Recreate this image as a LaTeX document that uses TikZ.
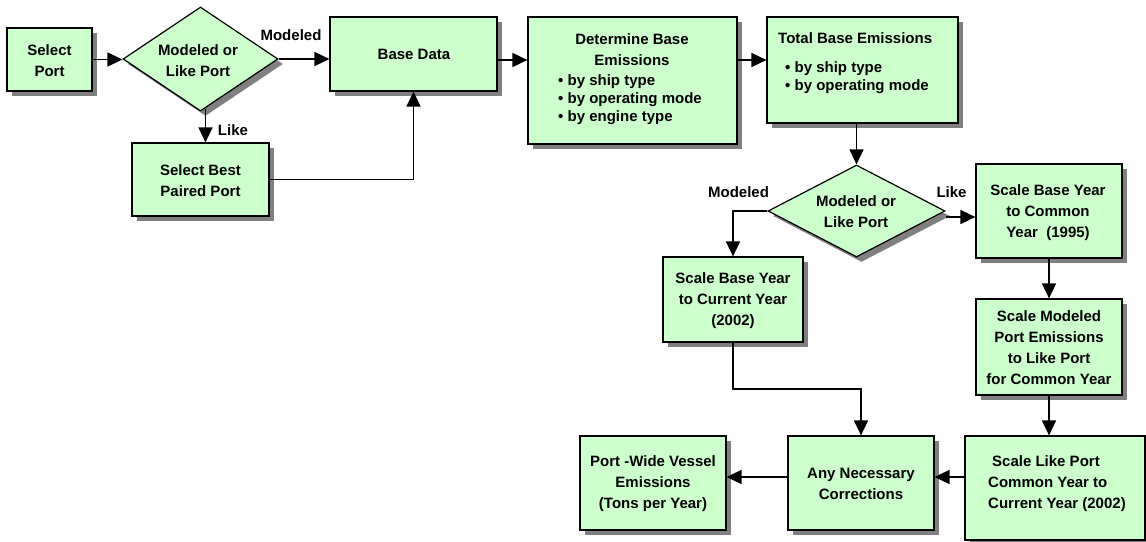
\documentclass[tikz,border=0pt]{standalone}
\usepackage{fontspec}
\setmainfont{Liberation Sans}
\usetikzlibrary{arrows.meta,shapes.geometric,shadows}
\definecolor{boxgreen}{RGB}{204,255,204}
\definecolor{shadowgray}{RGB}{128,128,128}
\begin{document}
\begin{tikzpicture}[x=1pt,y=-1pt,
  shad/.style={drop shadow={shadow xshift=5pt,shadow yshift=-5pt,fill=shadowgray,opacity=1}},
  box/.style={draw=black,line width=1.2pt,fill=boxgreen,rectangle,inner sep=0pt,shad},
  dia/.style={draw=black,line width=1.2pt,fill=boxgreen,diamond,inner sep=0pt,shad},
  txt/.style={font=\fontsize{15}{21}\selectfont\bfseries,inner sep=0pt,align=center},
  arr/.style={line width=1.6pt,-{Triangle[length=15pt,width=14pt]}}
]
\fill[white] (0,0) rectangle (1146,541);
\useasboundingbox (0,0) rectangle (1146,541);

% boxes
\node[box,minimum width=85pt,minimum height=63pt] (sp) at (49.5,59.5) {};
\node[dia,minimum width=155pt,minimum height=104pt] (d1) at (200.5,59) {};
\node[box,minimum width=167pt,minimum height=74pt] (bd) at (413.5,54) {};
\node[box,minimum width=137pt,minimum height=73pt] (sb) at (200.5,179.5) {};
\node[box,minimum width=209pt,minimum height=127pt] (det) at (632.5,80.5) {};
\node[box,minimum width=191pt,minimum height=106pt] (tot) at (862.5,70) {};
\node[dia,minimum width=177pt,minimum height=92pt] (d2) at (856.5,211) {};
\node[box,minimum width=146pt,minimum height=94pt] (scom) at (1049,211) {};
\node[box,minimum width=146pt,minimum height=96pt] (smod) at (1049,347) {};
\node[box,minimum width=140pt,minimum height=85pt] (scur) at (733,299.5) {};
\node[box,minimum width=146pt,minimum height=94pt] (pw) at (653,483) {};
\node[box,minimum width=146pt,minimum height=94pt] (any) at (861,483) {};
\node[box,minimum width=180pt,minimum height=104pt] (slike) at (1055,488) {};

% texts
\node[txt] (tsp) at (49.5,60.5) {Select\\Port};
\node[txt] (td1) at (198,60.5) {Modeled or\\Like Port};
\node[txt] (tbd) at (414,54) {Base Data};
\node[txt] (tsb) at (200.5,180.5) {Select Best\\Paired Port};
\node[txt] (tdet1) at (632,49.5) {Determine Base\\Emissions};
\node[txt,align=left,anchor=west] (tdet2) at (558,100) {• by ship type\\[-3pt]• by operating mode\\[-3pt]• by engine type};
\node[txt,anchor=west] (ttot1) at (778,38) {Total Base Emissions};
\node[txt,align=left,anchor=west] (ttot2) at (785,78) {• by ship type\\[-3pt]• by operating mode};
\node[txt] (td2) at (856,212) {Modeled or\\Like Port};
\node[txt] (tscom) at (1048,212.5) {Scale Base Year\\to Common\\Year\ \ (1995)};
\node[txt] (tsmod) at (1049,348) {Scale Modeled\\Port Emissions\\to Like Port\\for Common Year};
\node[txt] (tscur) at (733,300.5) {Scale Base Year\\to Current Year\\(2002)};
\node[txt] (tpw) at (653,484) {Port -Wide Vessel\\Emissions\\(Tons per Year)};
\node[txt] (tany) at (861,483.5) {Any Necessary\\Corrections};
\node[txt,align=left,anchor=west] (tslike) at (988,483.5) {\hspace{4pt}Scale Like Port\\Common Year to\\Current Year (2002)};

% labels
\node[txt] (lab1) at (291,35) {Modeled};
\node[txt] (lab2) at (233,130) {Like};
\node[txt] (lab3) at (738.5,192) {Modeled};
\node[txt] (lab4) at (951.5,192) {Like};

% helper coordinates
\coordinate (r1) at (0,60);
\coordinate (r2) at (0,217);
\coordinate (r3) at (0,477);
\coordinate (b1) at (733,389);

% connectors
\draw[arr] (sp.east) -- (sp.east -| d1.west);
\draw[arr] (d1.east) -- (d1.east -| bd.west);
\draw[arr] ([xshift=5pt,yshift=3pt]d1.south) -- ([xshift=5pt]d1.south |- sb.north);
\draw[arr] (sb.east) -| (bd.south);
\draw[arr] (bd.east |- r1) -- (det.west |- r1);
\draw[arr] (det.east |- r1) -- (tot.west |- r1);
\draw[arr] (tot.south -| d2.north) -- (d2.north);
\draw[arr] (d2.west) -| (scur.north);
\draw[arr] (d2.east |- r2) -- (scom.west |- r2);
\draw[arr] (scom.south) -- (scom.south |- smod.north);
\draw[arr] (scur.south) -- (scur.south |- b1) -| (any.north);
\draw[arr] (smod.south) -- (smod.south |- slike.north);
\draw[arr] (slike.west |- r3) -- (any.east |- r3);
\draw[arr] (any.west |- r3) -- (pw.east |- r3);
\end{tikzpicture}
\end{document}
